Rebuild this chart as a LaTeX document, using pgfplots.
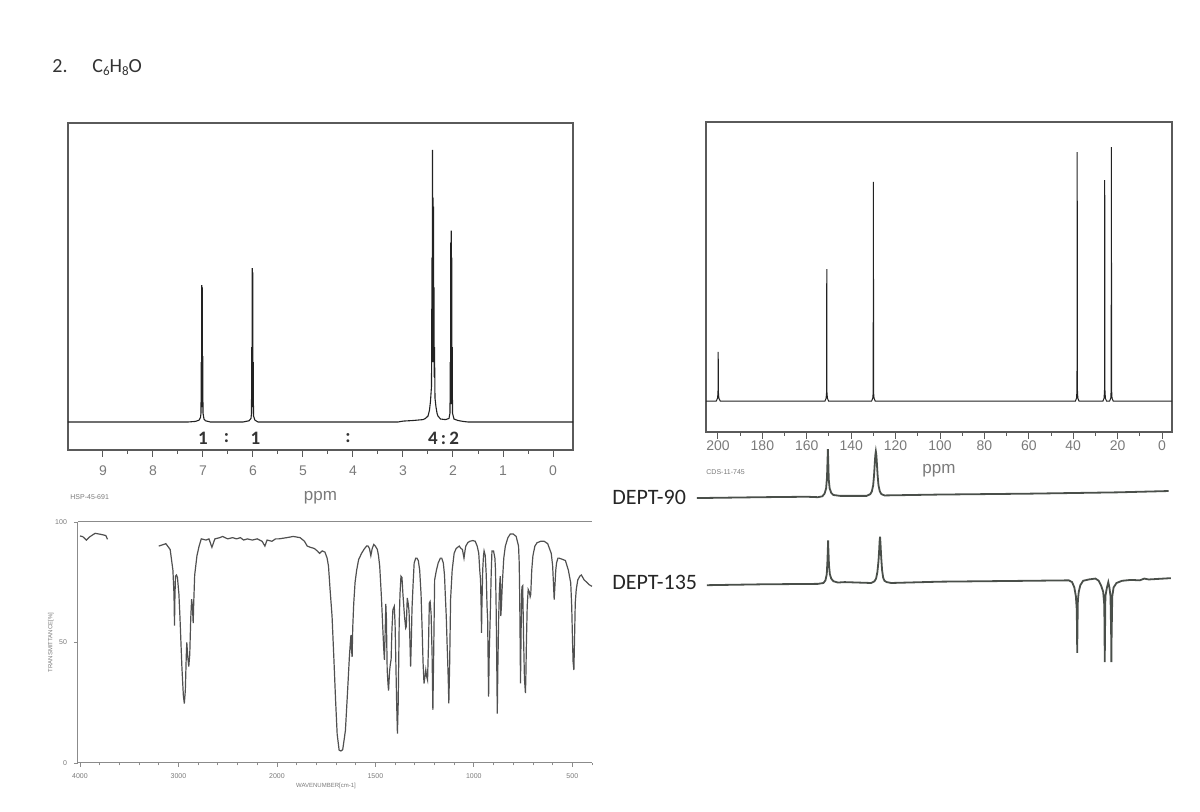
\documentclass[border=0pt]{standalone}
\usepackage{pgfplots}
\pgfplotsset{compat=1.18}
\usepackage{fontspec}
\setmainfont{Carlito}
\newfontfamily\axfont{Liberation Sans}

\definecolor{frame}{HTML}{5A5A5A}
\definecolor{ticktext}{HTML}{7A7A7A}
\definecolor{trace}{HTML}{222222}
\definecolor{deptcol}{HTML}{4A4F4A}
\definecolor{irline}{HTML}{505050}

\newcommand{\sub}[1]{\raisebox{-0.3ex}{\fontsize{6.5}{7}\selectfont #1}}

\pgfplotsset{
  nmr/.style={
    scale only axis, x dir=reverse, clip=false,
    axis line style={frame, line width=0.6pt},
    ytick=\empty, tick pos=left, tick align=outside,
    major tick length=3.5pt, minor tick length=2pt,
    tick style={frame, line width=0.5pt},
    xticklabel style={font=\axfont\fontsize{7}{8}\selectfont, text=ticktext},
    xlabel style={font=\axfont\fontsize{8.5}{9}\selectfont, text=ticktext},
  },
  deptaxis/.style={
    scale only axis, x dir=reverse, clip=false, hide axis,
    width=233pt, xmin=-4.5, xmax=205.4,
  },
}

\begin{document}
\begin{tikzpicture}
\useasboundingbox (0,0) rectangle (600pt,406pt);

% title
\node[anchor=base west, inner sep=0pt, font=\fontsize{10}{12}\selectfont, text=black!80] at (26pt,369.5pt) {2.};
\node[anchor=base west, inner sep=0pt, font=\fontsize{10}{12}\selectfont, text=black!80] at (46pt,369.5pt) {C\sub{6}H\sub{8}O};

% ---------- 1H NMR ----------
\begin{axis}[nmr,
  at={(34pt,181pt)}, anchor=south west,
  width=252.5pt, height=163.5pt,
  xmin=-0.4, xmax=9.7, ymin=-0.0936, ymax=1,
  xtick={0,1,2,3,4,5,6,7,8,9},
  xticklabels={0,1,2,3,4,5,6,7,8,9},
  minor x tick num=1,
  xticklabel style={yshift=-1pt},
  xlabel={ppm},
  xlabel style={at={(axis description cs:0.5,0)}, anchor=base, yshift=-25.5pt},
]
\addplot[trace, line width=0.55pt] coordinates {
(9.70,0) (8.00,0) (7.30,0) (7.15,0.002) (7.08,0.006) (7.05,0.015) (7.04,0.03)
(7.035,0.20) (7.03,0.05) (7.025,0.458) (7.02,0.06) (7.015,0.45) (7.01,0.05)
(7.005,0.22) (7.00,0.03) (6.98,0.01) (6.95,0.004) (6.85,0)
(6.20,0) (6.08,0.004) (6.04,0.012) (6.03,0.03) (6.025,0.25) (6.02,0.05)
(6.015,0.515) (6.01,0.06) (6.005,0.50) (6.00,0.05) (5.995,0.20) (5.99,0.02)
(5.96,0.006) (5.90,0)
(3.10,0) (3.00,0.003) (2.80,0.005) (2.60,0.008) (2.55,0.012) (2.50,0.02)
(2.47,0.04) (2.45,0.07) (2.43,0.12) (2.42,0.55) (2.415,0.2) (2.41,0.91)
(2.405,0.3) (2.40,0.75) (2.395,0.3) (2.39,0.72) (2.385,0.2) (2.38,0.45)
(2.375,0.15) (2.37,0.25) (2.36,0.08) (2.34,0.05) (2.32,0.03) (2.30,0.02)
(2.25,0.01) (2.15,0.008) (2.08,0.012) (2.06,0.03) (2.055,0.2) (2.05,0.06)
(2.045,0.60) (2.04,0.1) (2.035,0.64) (2.03,0.1) (2.025,0.55) (2.02,0.06)
(2.015,0.25) (2.01,0.03) (1.98,0.01) (1.90,0.005) (1.80,0.002) (1.70,0)
(-0.4,0)
};
\begin{scope}[font=\bfseries\fontsize{9.5}{10}\selectfont, text=black!80]
\node at (axis cs:7.0,-0.054) {1};
\node at (axis cs:6.53,-0.054) {:};
\node at (axis cs:5.95,-0.054) {1};
\node at (axis cs:4.10,-0.054) {:};
\node at (axis cs:2.19,-0.054) {4\,:\,2};
\end{scope}
\end{axis}
\node[anchor=base west, inner sep=0pt, font=\axfont\fontsize{3.5}{4}\selectfont, text=ticktext] at (35pt,156pt) {HSP-45-691};

% ---------- 13C NMR ----------
\begin{axis}[nmr,
  at={(353pt,190pt)}, anchor=south west,
  width=233pt, height=155pt,
  xmin=-4.5, xmax=205.4, ymin=-0.111, ymax=1,
  xtick={0,20,40,60,80,100,120,140,160,180,200},
  xticklabels={0,20,40,60,80,100,120,140,160,180,200},
  minor x tick num=1,
  xticklabel style={yshift=2.5pt},
  xlabel={ppm},
  xlabel style={at={(axis description cs:0.5,0)}, anchor=base, yshift=-21pt},
]
\addplot[trace, line width=0.5pt] coordinates {
(205.4,0) (200.8,0) (200.2,0.01) (200.0,0.03) (199.9,0.176) (199.8,0.03) (199.6,0.01) (199.0,0)
(151.8,0) (151.3,0.01) (151.1,0.03) (151.0,0.473) (150.9,0.03) (150.7,0.01) (150.2,0)
(130.8,0) (130.3,0.01) (130.1,0.03) (130.0,0.785) (129.9,0.03) (129.7,0.01) (129.2,0)
(39.0,0) (38.5,0.01) (38.3,0.04) (38.2,0.892) (38.1,0.04) (37.9,0.01) (37.4,0)
(26.6,0) (26.1,0.01) (25.9,0.04) (25.8,0.792) (25.7,0.04) (25.5,0.01) (25.0,0)
(23.6,0) (23.1,0.01) (22.9,0.04) (22.8,0.910) (22.7,0.04) (22.5,0.01) (22.0,0)
(-4.5,0)
};
\end{axis}
\node[anchor=base west, inner sep=0pt, font=\axfont\fontsize{3.5}{4}\selectfont, text=ticktext] at (353pt,168.5pt) {CDS-11-745};

% ---------- DEPT-90 ----------
\begin{axis}[deptaxis,
  at={(353pt,158.5pt)}, anchor=south west,
  height=22pt, ymin=0, ymax=1,
]
\addplot[deptcol, line width=0.9pt] coordinates {
(209.5,-0.07) (180,-0.05) (160,-0.04) (155,-0.05) (153,-0.03) (152,0.03) (151.3,0.15)
(150.9,0.4) (150.65,0.8) (150.5,1.04) (150.35,0.8) (150.1,0.35) (149.7,0.15)
(149,0.05) (148,0) (145,-0.02) (140,-0.02) (133,-0.02) (131.4,0.02) (130.7,0.08)
(130.1,0.22) (129.7,0.45) (129.4,0.7) (129.15,0.9) (128.9,0.99) (128.65,0.9)
(128.4,0.7) (128.1,0.45) (127.7,0.22) (127.1,0.08) (126.4,0.02) (125,-0.01)
(100,0.01) (60,0.03) (20,0.06) (-3,0.09)
};
\end{axis}
\node[anchor=base west, inner sep=0pt, font=\fontsize{11}{13}\selectfont, text=black!85] at (306pt,153.5pt) {DEPT-90};

% ---------- DEPT-135 ----------
\begin{axis}[deptaxis,
  at={(353pt,74.9pt)}, anchor=south west,
  height=61.6pt, ymin=-1.8, ymax=1,
]
\addplot[deptcol, line width=0.9pt] coordinates {
(205,-0.05) (180,-0.03) (155,-0.02) (152.5,0) (151.6,0.06) (151,0.2) (150.7,0.5)
(150.5,0.8) (150.4,0.97) (150.3,0.8) (150,0.4) (149.6,0.2) (149,0.1) (148,0.04)
(146,0.01) (143,0.02) (131,0) (129.5,0.04) (128.8,0.1) (128.2,0.25) (127.7,0.5)
(127.4,0.75) (127.2,0.95) (127,1.05) (126.8,0.9) (126.5,0.6) (126.1,0.3)
(125.6,0.12) (125,0.05) (124,0.02) (122,0) (100,0.03) (60,0.05) (42,0.06)
(40.5,0.02) (39.5,-0.1) (38.8,-0.3) (38.4,-0.6) (38.25,-1.2) (38.2,-1.59)
(38.1,-1.1) (37.9,-0.4) (37.5,-0.2) (36.8,-0.05) (35.5,0.05) (33,0.08) (30,0.1)
(28.5,0.05) (27.5,-0.05) (26.5,-0.2) (26,-0.5) (25.85,-1.3) (25.8,-1.8)
(25.7,-1.3) (25.5,-0.3) (24.8,-0.1) (24.2,0.02) (23.7,-0.1) (23.2,-0.3)
(22.9,-1.2) (22.8,-1.8) (22.7,-1.2) (22.4,-0.3) (21.8,-0.1) (20.5,0) (18,0.05)
(14,0.07) (10,0.06) (8,0.1) (6,0.08) (-4,0.11)
};
\end{axis}
\node[anchor=base west, inner sep=0pt, font=\fontsize{11}{13}\selectfont, text=black!85] at (306pt,111pt) {DEPT-135};

% ---------- IR ----------
\begin{axis}[
  scale only axis, clip=false,
  at={(39pt,24.5pt)}, anchor=south west,
  width=257pt, height=120.5pt,
  x dir=reverse,
  x coord trafo/.code={\pgfmathparse{#1>2000 ? 2000+0.5*(#1-2000) : #1}},
  xmin=400, xmax=4020, ymin=0, ymax=100,
  axis x line*=bottom, axis y line*=left,
  axis line style={frame!70, line width=0.5pt},
  tick align=outside, major tick length=2pt, minor tick length=1.2pt,
  tick style={frame!70, line width=0.4pt},
  xtick={4000,3000,2000,1500,1000,500},
  xticklabels={4000,3000,2000,1500,1000,500},
  minor xtick={3800,3600,3400,3200,2800,2600,2400,2200,1900,1800,1700,1600,1400,1300,1200,1100,900,800,700,600,400},
  ytick={0,50,100}, yticklabels={0,50,100},
  tick label style={font=\axfont\fontsize{3.5}{4}\selectfont, text=ticktext},
  xlabel={WAVENUMBER[cm-1]}, ylabel={TRANSMITTANCE[\%]},
  label style={font=\axfont\fontsize{3}{3.5}\selectfont, text=ticktext},
  xlabel style={yshift=5pt, xshift=-4.5pt},
  ylabel style={yshift=-6pt},
]
\draw[frame!70, line width=0.5pt] (rel axis cs:0,1) -- (rel axis cs:1,1);
\addplot[irline, line width=0.6pt] coordinates {
(4000,94.2) (3971,93.9) (3935,92.5) (3899,93.9) (3846,95.3) (3792,94.9) (3738,94.4) (3720,92.8)
};
\addplot[irline, line width=0.6pt] coordinates {
(3200,90) (3128,91) (3084,88.6) (3056,80) (3045,70) (3040,57) (3036,68) (3030,77.5)
(3020,78) (3010,77) (2995,70) (2984,60) (2965,40) (2950,28) (2940,24.7) (2930,30)
(2920,45) (2915,50) (2905,44) (2895,40) (2885,45) (2875,60) (2866,68) (2858,65)
(2850,58) (2845,66) (2835,78) (2812,86) (2790,90) (2768,93) (2720,92.5) (2690,93)
(2660,89.5) (2630,93) (2580,93.5) (2552,94) (2500,93) (2450,93.5) (2410,93)
(2370,93.5) (2338,92.5) (2300,93) (2250,92.5) (2200,93) (2150,92) (2122,90)
(2100,92.5) (2050,92) (2014,93) (1990,93) (1950,93.5) (1917,94) (1882,93.5)
(1860,92) (1846,90) (1830,89.5) (1810,89) (1795,88) (1783,87) (1770,88)
(1756,87.5) (1745,85) (1738,81.7) (1730,72) (1720,61) (1710,42) (1702,26)
(1694,12) (1684,5.3) (1675,5) (1666,5.5) (1658,10) (1652,13.6) (1645,24)
(1639,33) (1632,44) (1627,50) (1624,53) (1621,47) (1618,44) (1615,56) (1610,66)
(1603,75) (1595,80) (1585,84.4) (1570,87) (1558,88.6) (1545,90) (1537,90)
(1530,89) (1523,86) (1516,89) (1508,90.7) (1500,90) (1490,88.6) (1484,86)
(1478,81.7) (1470,70) (1465,61) (1458,48) (1454,42.8) (1450,55) (1447,66)
(1444,60) (1440,38.6) (1436,33) (1433,30) (1428,38) (1424,41) (1420,43)
(1416,55) (1411,63.6) (1404,65) (1400,58) (1397,46) (1392,25) (1388,12.2)
(1384,25) (1379,58) (1375,70) (1370,77.5) (1365,77) (1360,70) (1352,60.8)
(1346,56) (1343,56.6) (1340,64) (1338,68.5) (1333,66) (1329,63) (1325,52)
(1321,40) (1317,52) (1314,64) (1308,75) (1303,83) (1295,85) (1289,85) (1282,84)
(1275,80) (1268,70) (1262,54) (1258,42) (1253,33) (1248,36) (1244,38.6)
(1240,36) (1235,34.4) (1230,50) (1226,66.4) (1222,67) (1217,62) (1212,45)
(1208,22) (1204,45) (1199,76) (1190,80) (1181,83) (1170,85) (1163,85) (1155,83)
(1149,78) (1145,70) (1140,60.8) (1136,50) (1133,42.8) (1130,35) (1127,24.7)
(1123,40) (1118,68) (1110,80) (1100,87) (1090,89) (1074,90) (1065,89)
(1058,88.6) (1050,85) (1045,88) (1041,90) (1030,91.5) (1020,92) (1005,92.3)
(993,92) (983,90) (975,87) (970,80) (966,76) (963,65) (961,54) (959,65) (955,80)
(951,86) (948,88) (942,86) (937,78) (933,65) (930,60) (927,40) (925,27.5)
(922,45) (917,60) (912,78) (908,88) (900,88) (893,85) (890,80) (887,66) (884,45)
(881,20.5) (878,40) (874,60) (870,72) (866,77.5) (864,70) (863,61) (860,65)
(855,75) (848,85) (840,90) (827,93.5) (815,95) (800,95) (785,94) (773,90)
(770,84) (768,75) (766,60) (763,33) (760,55) (756,73) (752,73.5) (749,60)
(747,50) (743,35) (738,29) (736,35) (733,50) (729,65) (724,72) (718,71)
(714,69) (711,70) (706,80) (700,86) (690,90) (679,91.4) (660,92) (643,92)
(625,91) (607,87) (600,82) (596,75) (592,67.8) (588,74) (584,80) (580,83)
(573,85) (567,85) (550,84.5) (535,84) (520,80) (508,74.7) (503,65) (499,51)
(496,42) (492,38.6) (489,50) (485,66.4) (480,72) (472,76) (462,77.5) (454,78)
(440,76) (427,75) (415,74) (400,73.3)
};
\end{axis}
\end{tikzpicture}
\end{document}
